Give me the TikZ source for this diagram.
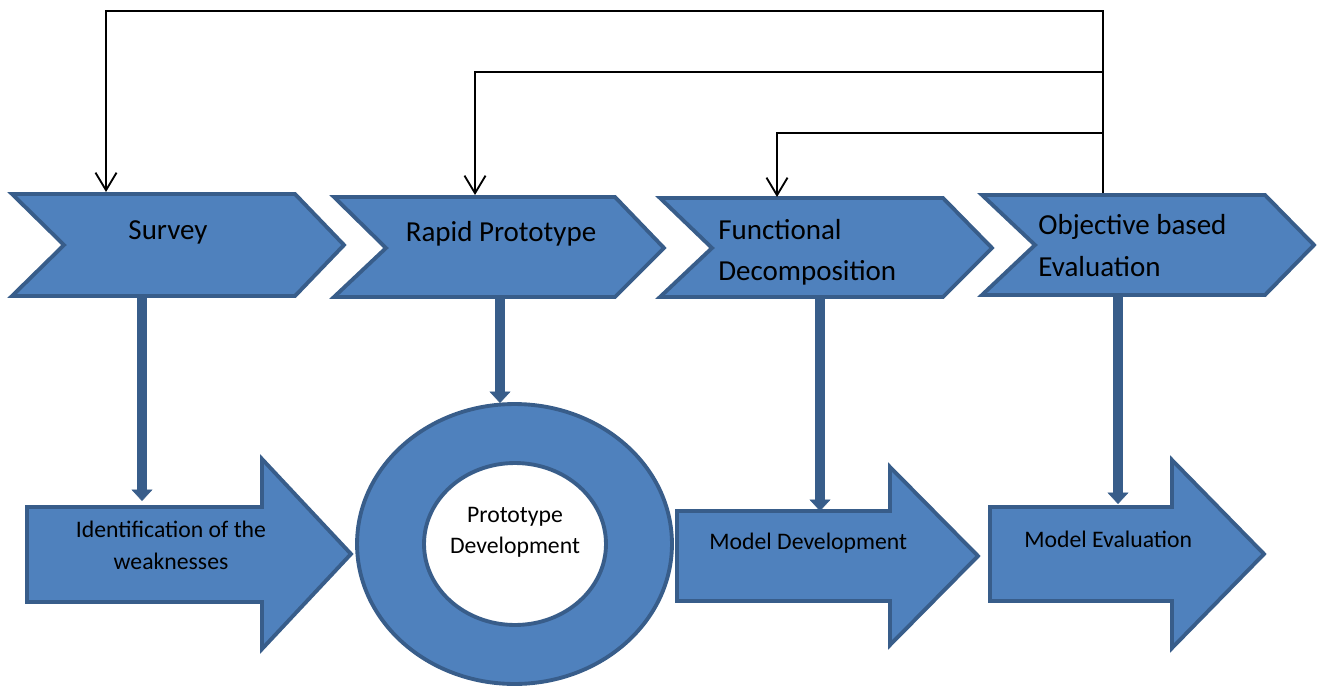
\documentclass[tikz,border=0pt]{standalone}
\usepackage{fontspec}
\setmainfont{Carlito}
\usetikzlibrary{arrows.meta}
\definecolor{shapefill}{HTML}{4F81BD}
\definecolor{shapeline}{HTML}{385D8A}
\begin{document}
\begin{tikzpicture}[x=0.02cm,y=-0.02cm,
  blockshape/.style={fill=shapefill,draw=shapeline,line width=2.2pt,line join=miter},
  headlabel/.style={inner sep=0pt,anchor=base,font=\fontsize{16.5}{20}\selectfont},
  headlabelL/.style={headlabel,anchor=base west},
  bodylabel/.style={inner sep=0pt,anchor=base,font=\fontsize{13.5}{16}\selectfont},
  bodylabelL/.style={bodylabel,anchor=base west},
  downflow/.style={draw=shapeline,line width=5.7pt,-{Triangle[width=12pt,length=6.5pt,line width=0.3pt]}},
  feedback/.style={draw=black,line width=1.05pt,-{Straight Barb[length=10pt,width=12pt]}},
]
\useasboundingbox (0,0) rectangle (1325,686);

% upper row: chevrons
\path[blockshape] (12,194) -- (295,194) -- (344,245) -- (295,296) -- (12,296) -- (64,245) -- cycle;
\path[blockshape] (334,197) -- (615,197) -- (664,248) -- (615,297) -- (334,297) -- (386,248) -- cycle;
\path[blockshape] (660,198) -- (943,198) -- (992,248) -- (943,297) -- (660,297) -- (712,248) -- cycle;
\path[blockshape] (982,195) -- (1265,195) -- (1314,245) -- (1265,295) -- (982,295) -- (1035,245) -- cycle;

% lower row: block arrows and ring
\path[blockshape] (27,507) -- (262,507) -- (262,459) -- (351,554) -- (262,649) -- (262,602) -- (27,602) -- cycle;
\path[blockshape,even odd rule] (514.5,544) ellipse [x radius=3.15cm,y radius=2.8cm]
                                 (515,544) ellipse [x radius=1.82cm,y radius=1.62cm];
\path[blockshape] (677,511) -- (890,511) -- (890,467) -- (978,556) -- (890,645) -- (890,601) -- (677,601) -- cycle;
\path[blockshape] (990,507) -- (1172,507) -- (1172,460) -- (1264,554) -- (1172,648) -- (1172,601) -- (990,601) -- cycle;

% labels
\node[headlabel] (survey) at (168,239) {Survey};
\node[headlabel] (rapid) at (501,241) {Rapid Prototype};
\node[headlabelL] (func-a) at (718,239) {Functional};
\node[headlabelL] (func-b) at (718,280) {Decomposition};
\node[headlabelL] (obj-a) at (1038,234) {Objective based};
\node[headlabelL] (obj-b) at (1038,276) {Evaluation};
\node[bodylabel] (ident-a) at (171,537) {Identification of the};
\node[bodylabel] (ident-b) at (171,569) {weaknesses};
\node[bodylabel] (proto-a) at (515,522) {Prototype};
\node[bodylabel] (proto-b) at (515,553) {Development};
\node[bodylabelL] (model-dev) at (709,549) {Model Development};
\node[bodylabelL] (model-eval) at (1024,547) {Model Evaluation};

% connection points on the shapes
\coordinate (survey-n) at (106,192);
\coordinate (rapid-n) at (475,195);
\coordinate (func-n) at (777,197);
\coordinate (obj-n) at (1103,193);
\coordinate (survey-s) at (142,296);
\coordinate (rapid-s) at (500,297);
\coordinate (func-s) at (820,297);
\coordinate (obj-s) at (1118,295);
\coordinate (ident-n) at (142,501);
\coordinate (proto-n) at (500,403);
\coordinate (mdev-n) at (820,511);
\coordinate (meval-n) at (1118,504);
\coordinate (loop-b) at (1103,72);
\coordinate (loop-c) at (1103,133);

% downward flows
\draw[downflow] (survey-s) -- (ident-n);
\draw[downflow] (rapid-s) -- (proto-n);
\draw[downflow] (func-s) -- (mdev-n);
\draw[downflow] (obj-s) -- (meval-n);

% feedback loops
\draw[feedback] (obj-n) -- ++(0,-182) -| (survey-n);
\draw[feedback] (loop-b) -| (rapid-n);
\draw[feedback] (loop-c) -| (func-n);
\end{tikzpicture}
\end{document}
